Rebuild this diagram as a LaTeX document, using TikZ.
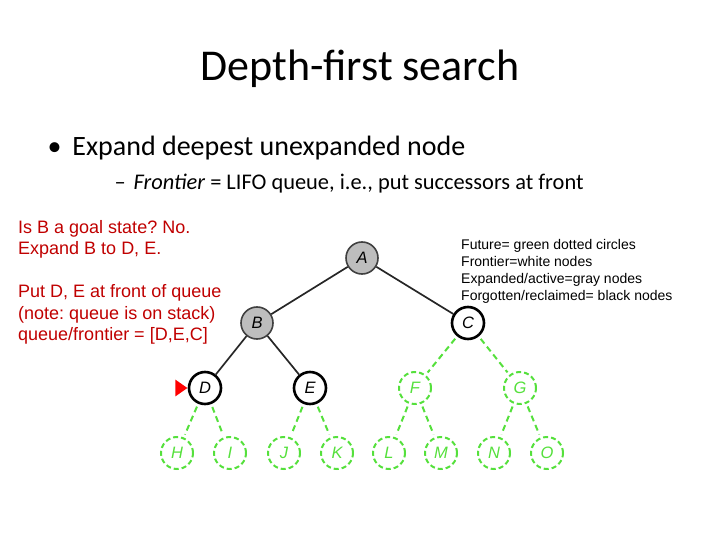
\documentclass[tikz,border=0pt]{standalone}
\usepackage{fontspec}
\setmainfont{Carlito}
\newfontfamily\notefont{Liberation Sans}
\usetikzlibrary{positioning,calc,shapes.geometric}
\definecolor{notered}{HTML}{C00000}
\definecolor{futuregreen}{HTML}{55E03C}
\definecolor{expandgray}{HTML}{BDBDBD}
\tikzset{
  treenode/.style={circle, minimum size=32pt, inner sep=0pt,
    font=\notefont\itshape\fontsize{16.5}{16.5}\selectfont},
  expandednode/.style={treenode, draw=black!75, fill=expandgray, line width=1.6pt},
  frontiernode/.style={treenode, draw=black, fill=white, line width=2.6pt},
  futurenode/.style={treenode, draw=futuregreen, text=futuregreen, line width=2pt,
    dash pattern=on 5pt off 3pt},
  treeedge/.style={draw=black!85, line width=1.7pt},
  futureedge/.style={draw=futuregreen, line width=2pt, dash pattern=on 6pt off 4pt,
    shorten <=3pt, shorten >=3pt},
  pointer/.style={isosceles triangle, isosceles triangle apex angle=70, fill=red,
    inner sep=0pt, minimum height=12pt, minimum width=15pt},
  notetext/.style={font=\notefont\fontsize{18}{21.5}\selectfont, text=notered,
    align=left, anchor=north west, inner sep=0pt},
  legendtext/.style={font=\notefont\fontsize{14}{17}\selectfont, align=left,
    anchor=north west, inner sep=0pt},
}
\frenchspacing
\begin{document}
\begin{tikzpicture}[x=1pt, y=-1pt]
\useasboundingbox (0,0) rectangle (720,540);
% --- heading and bullets ---
\node[font=\fontsize{44}{44}\selectfont] (title) at (360,69) {Depth-first search};
\node[font=\fontsize{28}{28}\selectfont, anchor=west] (bullet) at (44,148)
  {\textbullet\hspace{11pt}Expand deepest unexpanded node};
\node[font=\fontsize{22.4}{22.4}\selectfont, anchor=west] (subbullet) at (111,184)
  {--\hspace{8pt}\textit{Frontier} = LIFO queue, i.e., put successors at front};
% --- notes ---
\node[notetext] (goalnote) at (18,220) {Is B a goal state? No.\\Expand B to D, E.\\[21.5pt]
  Put D, E at front of queue\\(note: queue is on stack)\\queue/frontier = [D,E,C]};
\node[legendtext] (legend) at (461,239) {Future= green dotted circles\\Frontier=white nodes\\Expanded/active=gray nodes\\Forgotten/reclaimed= black nodes};
% --- tree ---
\node[expandednode] (A) at (362,258) {A};
\node[expandednode] (B) at (257,323) {B};
\node[frontiernode] (C) at (468,323) {C};
\node[frontiernode] (D) at (205,388) {D};
\node[frontiernode] (E) at (310,388) {E};
\node[futurenode] (F) at (415,388) {F};
\node[futurenode] (G) at (520,388) {G};
\foreach \name/\xpos in {H/177,I/230,J/284,K/337,L/389,M/441,N/494,O/547}
  \node[futurenode] (\name) at (\xpos,453) {\name};
\node[pointer, left=0pt of D] (ptr) {};
% --- edges ---
\draw[treeedge] (A) -- (B);
\draw[treeedge] (A) -- (C);
\draw[treeedge] (B) -- (D);
\draw[treeedge] (B) -- (E);
\foreach \parent/\kid in {C/F,C/G,D/H,D/I,E/J,E/K,F/L,F/M,G/N,G/O}
  \draw[futureedge] (\parent) -- (\kid);
\end{tikzpicture}
\end{document}
